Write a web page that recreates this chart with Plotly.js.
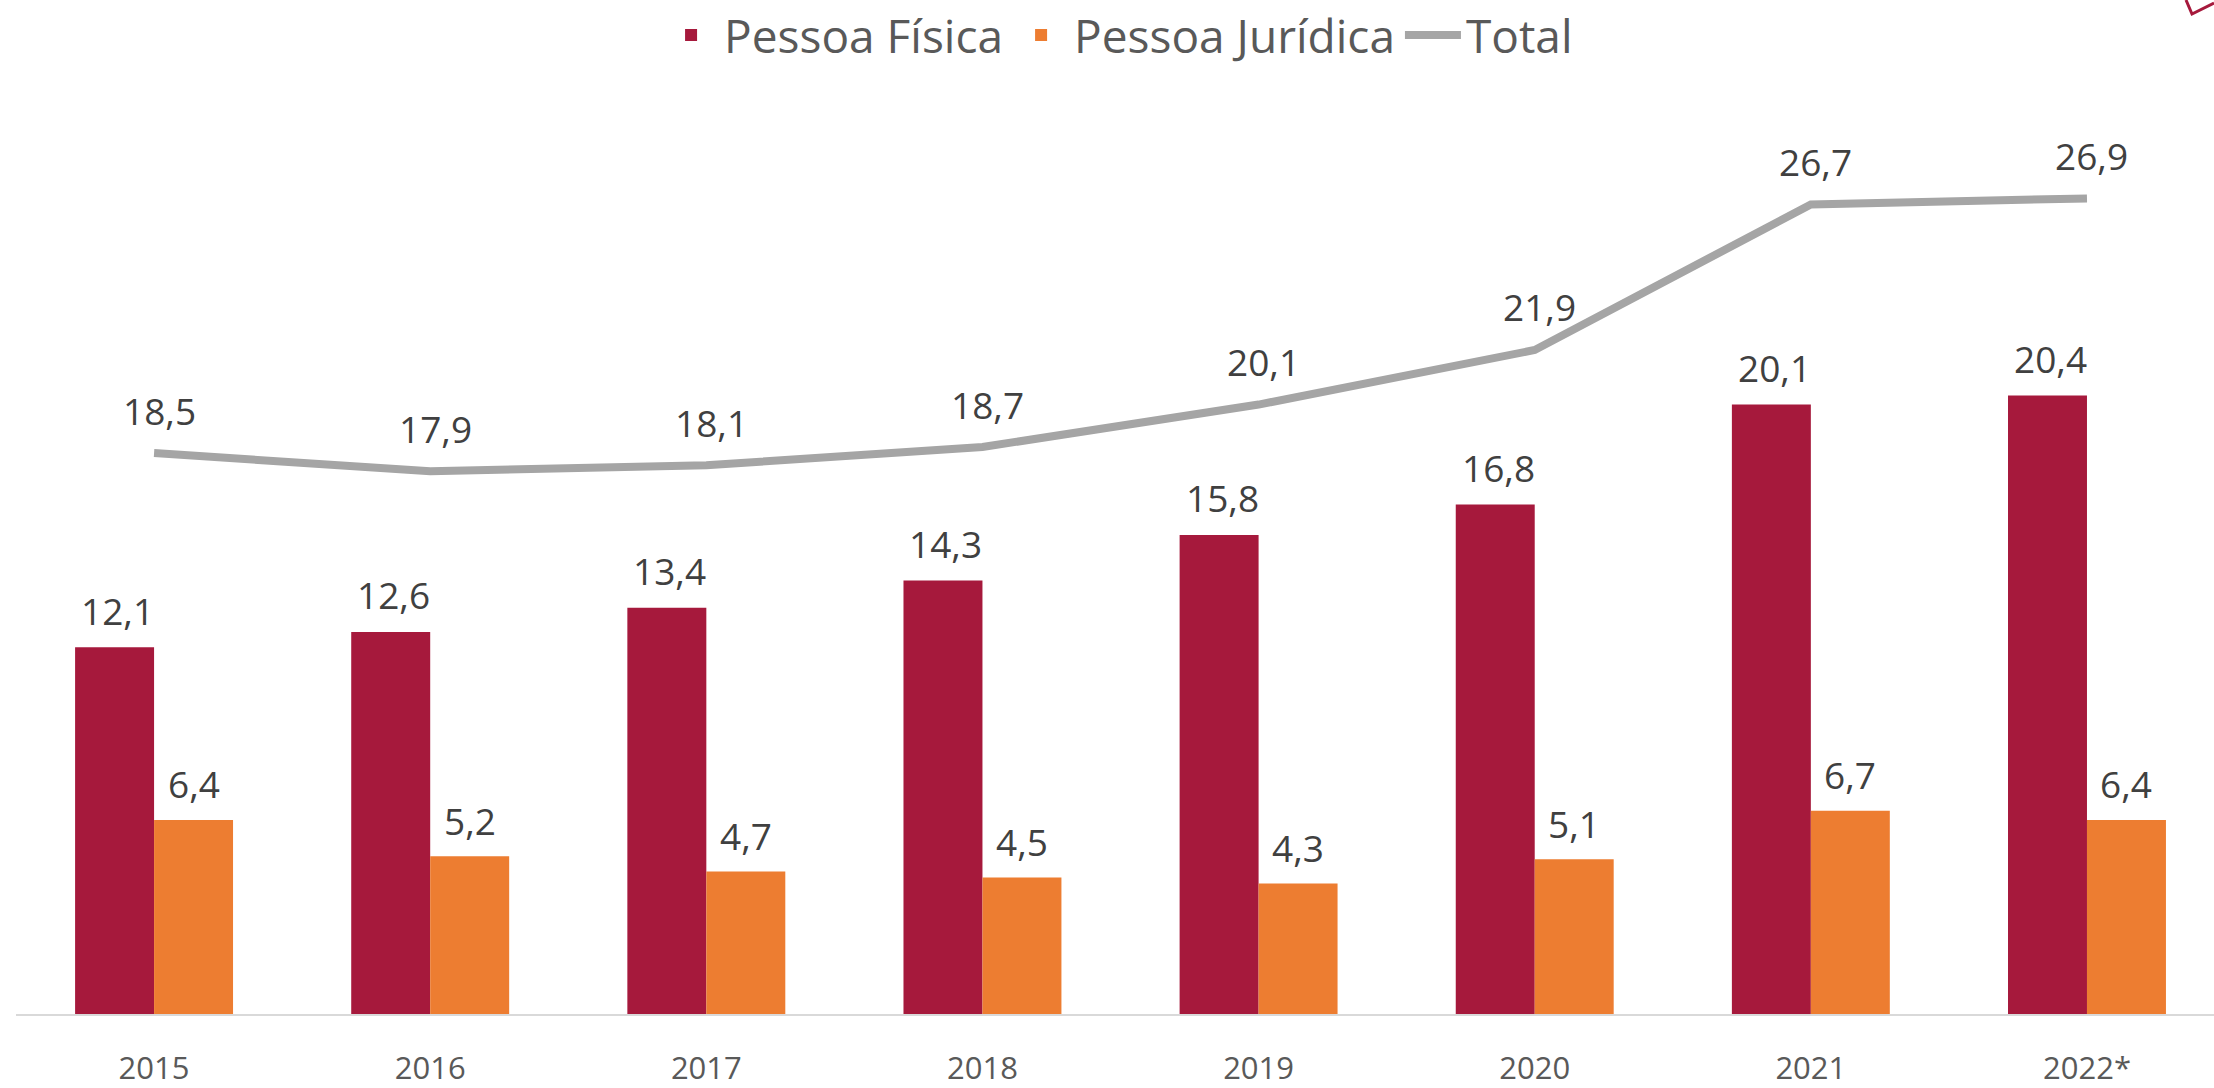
<!DOCTYPE html>
<html>
<head>
<meta charset="utf-8">
<script src="https://cdn.plot.ly/plotly-3.0.1.min.js"></script>
<style>html,body{margin:0;padding:0;background:#fff;}#chart{width:2214px;height:1088px;}</style>
</head>
<body>
<div id="chart"></div>
<script>
// ---- data ----
const categories = ['2015','2016','2017','2018','2019','2020','2021','2022*'];
const pessoaFisica = [12.1, 12.6, 13.4, 14.3, 15.8, 16.8, 20.1, 20.4];
const pessoaJuridica = [6.4, 5.2, 4.7, 4.5, 4.3, 5.1, 6.7, 6.4];
const total = [18.5, 17.9, 18.1, 18.7, 20.1, 21.9, 26.7, 26.9];
const seriesNames = ['Pessoa Física', 'Pessoa Jurídica', 'Total'];

// ---- style ----
const W = 2214, H = 1088;
const M = {l: 16, r: 0, t: 100, b: 74};
const xRange = [-0.5, 7.46];
const bargap = 0.428;
const FONT = "'Open Sans', 'Noto Sans', sans-serif";
const colPF = '#A6193C', colPJ = '#ED7D31', colTot = '#A5A5A5';
const labelColor = '#404040';

const catPx = (W - M.l - M.r) / (xRange[1] - xRange[0]);
const barHalf = catPx * (1 - bargap) / 4; // half of one bar width

const fmt = v => v.toFixed(1).replace('.', ',');

const traces = [
  {type: 'bar', name: seriesNames[0], x: categories, y: pessoaFisica,
   marker: {color: colPF}, hoverinfo: 'skip'},
  {type: 'bar', name: seriesNames[1], x: categories, y: pessoaJuridica,
   marker: {color: colPJ}, hoverinfo: 'skip'},
  {type: 'scatter', mode: 'lines', name: seriesNames[2], x: categories, y: total,
   line: {color: colTot, width: 8}, hoverinfo: 'skip'}
];

const annotations = [];
const labFont = {family: FONT, size: 37, color: labelColor};
categories.forEach((c, i) => {
  annotations.push({x: i, y: pessoaFisica[i], xref: 'x', yref: 'y', text: fmt(pessoaFisica[i]),
    showarrow: false, xanchor: 'center', yanchor: 'middle', xshift: -barHalf + 3, yshift: 37, font: labFont});
  annotations.push({x: i, y: pessoaJuridica[i], xref: 'x', yref: 'y', text: fmt(pessoaJuridica[i]),
    showarrow: false, xanchor: 'center', yanchor: 'middle', xshift: barHalf, yshift: 36, font: labFont});
  annotations.push({x: i, y: total[i], xref: 'x', yref: 'y', text: fmt(total[i]),
    showarrow: false, xanchor: 'center', yanchor: 'middle', xshift: 5, yshift: 43, font: labFont});
});

// decorative corner mark (logo fragment at top-right)
const pw = W - M.l - M.r, ph = H - M.t - M.b;
const px = x => (x - M.l) / pw, py = y => (H - M.b - y) / ph;

const layout = {
  width: W, height: H,
  margin: M,
  paper_bgcolor: '#ffffff', plot_bgcolor: '#ffffff',
  font: {family: FONT, color: '#595959'},
  barmode: 'group', bargap: bargap, bargroupgap: 0,
  showlegend: true,
  legend: {orientation: 'h', xref: 'container', yref: 'container', x: 0.505, xanchor: 'center',
           y: 1 - 35/H, yanchor: 'middle', font: {family: FONT, size: 46, color: '#595959'},
           itemwidth: 56, traceorder: 'normal'},
  xaxis: {type: 'category', range: xRange, showgrid: false, zeroline: false,
          showline: true, linecolor: '#D9D9D9', linewidth: 2, ticks: '',
          tickfont: {family: FONT, size: 31, color: '#595959'}, ticklabelstandoff: 26, fixedrange: true},
  yaxis: {range: [0, (H - M.t - M.b) / 30.32], showgrid: false, zeroline: false, showline: false,
          showticklabels: false, ticks: '', fixedrange: true},
  annotations: annotations,
  shapes: [{type: 'path', xref: 'paper', yref: 'paper',
            path: `M ${px(2186)},${py(0)} L ${px(2192)},${py(14)} L ${px(2214)},${py(3)}`,
            line: {color: colPF, width: 3}}]
};

Plotly.newPlot('chart', traces, layout, {displayModeBar: false, staticPlot: true});
</script>
</body>
</html>
